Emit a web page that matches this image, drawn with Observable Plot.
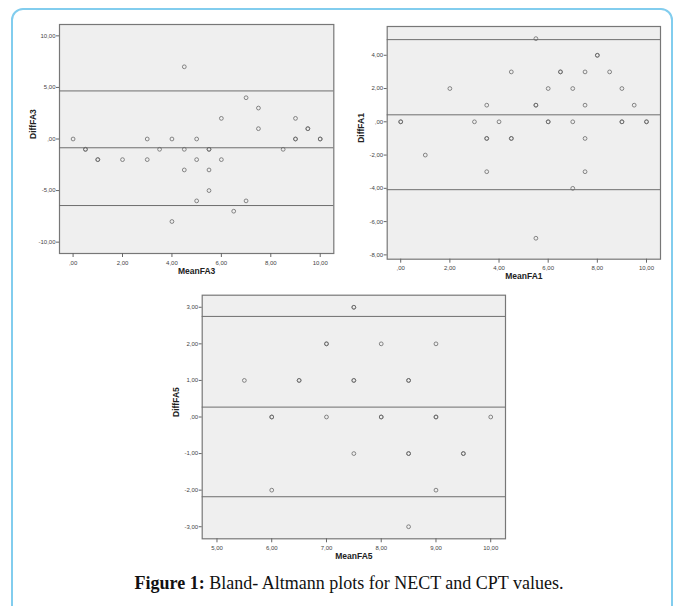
<!DOCTYPE html>
<html>
<head>
<meta charset="utf-8">
<script src="https://cdn.jsdelivr.net/npm/d3@7"></script>
<script src="https://cdn.jsdelivr.net/npm/@observablehq/plot@0.6"></script>
<style>
  html, body { margin: 0; padding: 0; background: #fff; }
  #page { position: relative; width: 678px; height: 606px; overflow: hidden; }
  #border { position: absolute; left: 11px; top: 8px; width: 662px; height: 640px;
            border: 2px solid #82cdee; border-radius: 12px; box-sizing: border-box; }
  .panel { position: absolute; }
  #caption { position: absolute; left: 10px; width: 678px; top: 572px; text-align: center;
             font-family: "Liberation Serif", "DejaVu Serif", serif; font-size: 18px; line-height: 22px; color: #111; }
</style>
</head>
<body>
<div id="page">
  <div id="border"></div>
  <div id="p1" class="panel" style="left:20px;top:20px"></div>
  <div id="p2" class="panel" style="left:340px;top:20px"></div>
  <div id="p3" class="panel" style="left:160px;top:290px"></div>
  <div id="caption"><b>Figure 1:</b> Bland- Altmann plots for NECT and CPT values.</div>
</div>
<script>
// ---- Data (duplicates repeated: overlapping points look darker) ----
const fa3Mean = [0, 0.5, 0.5, 1, 1, 2, 3, 3, 3.5, 4, 4, 4.5, 4.5, 4.5, 5, 5, 5, 5.5, 5.5, 5.5, 5.5, 6, 6, 6.5, 7, 7, 7.5, 7.5, 8.5, 9, 9, 9, 9.5, 9.5, 10, 10];
const fa3Diff = [0, -1, -1, -2, -2, -2, 0, -2, -1, 0, -8, 7, -1, -3, 0, -2, -6, -1, -1, -3, -5, 2, -2, -7, 4, -6, 3, 1, -1, 2, 0, 0, 1, 1, 0, 0];
const fa3Lines = [4.66, -0.85, -6.45];

const fa1Mean = [0, 0, 1, 2, 3, 3.5, 3.5, 3.5, 3.5, 4, 4.5, 4.5, 4.5, 5.5, 5.5, 5.5, 5.5, 6, 6, 6, 6.5, 6.5, 7, 7, 7, 7.5, 7.5, 7.5, 7.5, 8, 8, 8.5, 9, 9, 9, 9.5, 10, 10];
const fa1Diff = [0, 0, -2, 2, 0, 1, -1, -1, -3, 0, 3, -1, -1, 5, 1, 1, -7, 2, 0, 0, 3, 3, 2, 0, -4, 3, 1, -1, -3, 4, 4, 3, 2, 0, 0, 1, 0, 0];
const fa1Lines = [4.94, 0.42, -4.08];

const fa5Mean = [5.5, 6, 6, 6, 6.5, 6.5, 7, 7, 7, 7.5, 7.5, 7.5, 7.5, 7.5, 8, 8, 8, 8.5, 8.5, 8.5, 8.5, 8.5, 9, 9, 9, 9, 9.5, 9.5, 10];
const fa5Diff = [1, 0, 0, -2, 1, 1, 2, 2, 0, 3, 3, 1, 1, -1, 2, 0, 0, 1, 1, -1, -1, -3, 2, 0, 0, -2, -1, -1, 0];
const fa5Lines = [2.75, 0.27, -2.18];

const fa3XTicks = [0, 2, 4, 6, 8, 10];
const fa3YTicks = [-10, -5, 0, 5, 10];
const fa1XTicks = [0, 2, 4, 6, 8, 10];
const fa1YTicks = [-8, -6, -4, -2, 0, 2, 4];
const fa5XTicks = [5, 6, 7, 8, 9, 10];
const fa5YTicks = [-3, -2, -1, 0, 1, 2, 3];

const fmt = d => d.toFixed(2).replace(".", ",").replace(/^(-?)0,/, "$1,");

function panel(el, cfg) {
  const data = cfg.mean.map((m, i) => ({x: m, y: cfg.diff[i]}));
  const svg = Plot.plot({
    width: cfg.width, height: cfg.height,
    marginLeft: cfg.ml, marginRight: cfg.mr, marginTop: cfg.mt, marginBottom: cfg.mb,
    x: {domain: cfg.xd},
    y: {domain: cfg.yd},
    style: {fontFamily: "'Liberation Sans', Arial, sans-serif", fontSize: "6px", color: "#333", background: "transparent", overflow: "visible"},
    marks: [
      Plot.frame({fill: "#efefef", stroke: "#777", strokeWidth: 1.2}),
      Plot.ruleY(cfg.lines, {stroke: "#6e6e6e", strokeWidth: 1}),
      Plot.dot(data, {x: "x", y: "y", r: 1.9, stroke: "#6a6a6a", strokeWidth: 0.8, fill: "none"}),
      Plot.axisX({ticks: cfg.xt, tickFormat: fmt, tickSize: 4, tickPadding: 3, stroke: "#666", label: null, fill: "#444"}),
      Plot.axisY({ticks: cfg.yt, tickFormat: fmt, tickSize: 3, tickPadding: 1, stroke: "#666", label: null, fill: "#444"}),
      Plot.text([cfg.xlabel], {frameAnchor: "bottom", dy: 20, fontWeight: "bold", fontSize: 8.5, fill: "#222"}),
      Plot.text([cfg.ylabel], {frameAnchor: "left", dx: -26, rotate: -90, fontWeight: "bold", fontSize: 8.5, fill: "#222"})
    ]
  });
  document.getElementById(el).appendChild(svg);
}

panel("p1", {mean: fa3Mean, diff: fa3Diff, lines: fa3Lines, xt: fa3XTicks, yt: fa3YTicks,
  xd: [-0.55, 10.55], yd: [-11.1, 11.1], width: 320, height: 265, ml: 39, mr: 6.7, mt: 4, mb: 32,
  xlabel: "MeanFA3", ylabel: "DiffFA3"});
panel("p2", {mean: fa1Mean, diff: fa1Diff, lines: fa1Lines, xt: fa1XTicks, yt: fa1YTicks,
  xd: [-0.55, 10.57], yd: [-8.26, 5.73], width: 330, height: 270, ml: 46.7, mr: 10, mt: 6, mb: 31.3,
  xlabel: "MeanFA1", ylabel: "DiffFA1"});
panel("p3", {mean: fa5Mean, diff: fa5Diff, lines: fa5Lines, xt: fa5XTicks, yt: fa5YTicks,
  xd: [4.73, 10.27], yd: [-3.33, 3.33], width: 355, height: 280, ml: 41.7, mr: 10, mt: 4.7, mb: 31.7,
  xlabel: "MeanFA5", ylabel: "DiffFA5"});
</script>
</body>
</html>
